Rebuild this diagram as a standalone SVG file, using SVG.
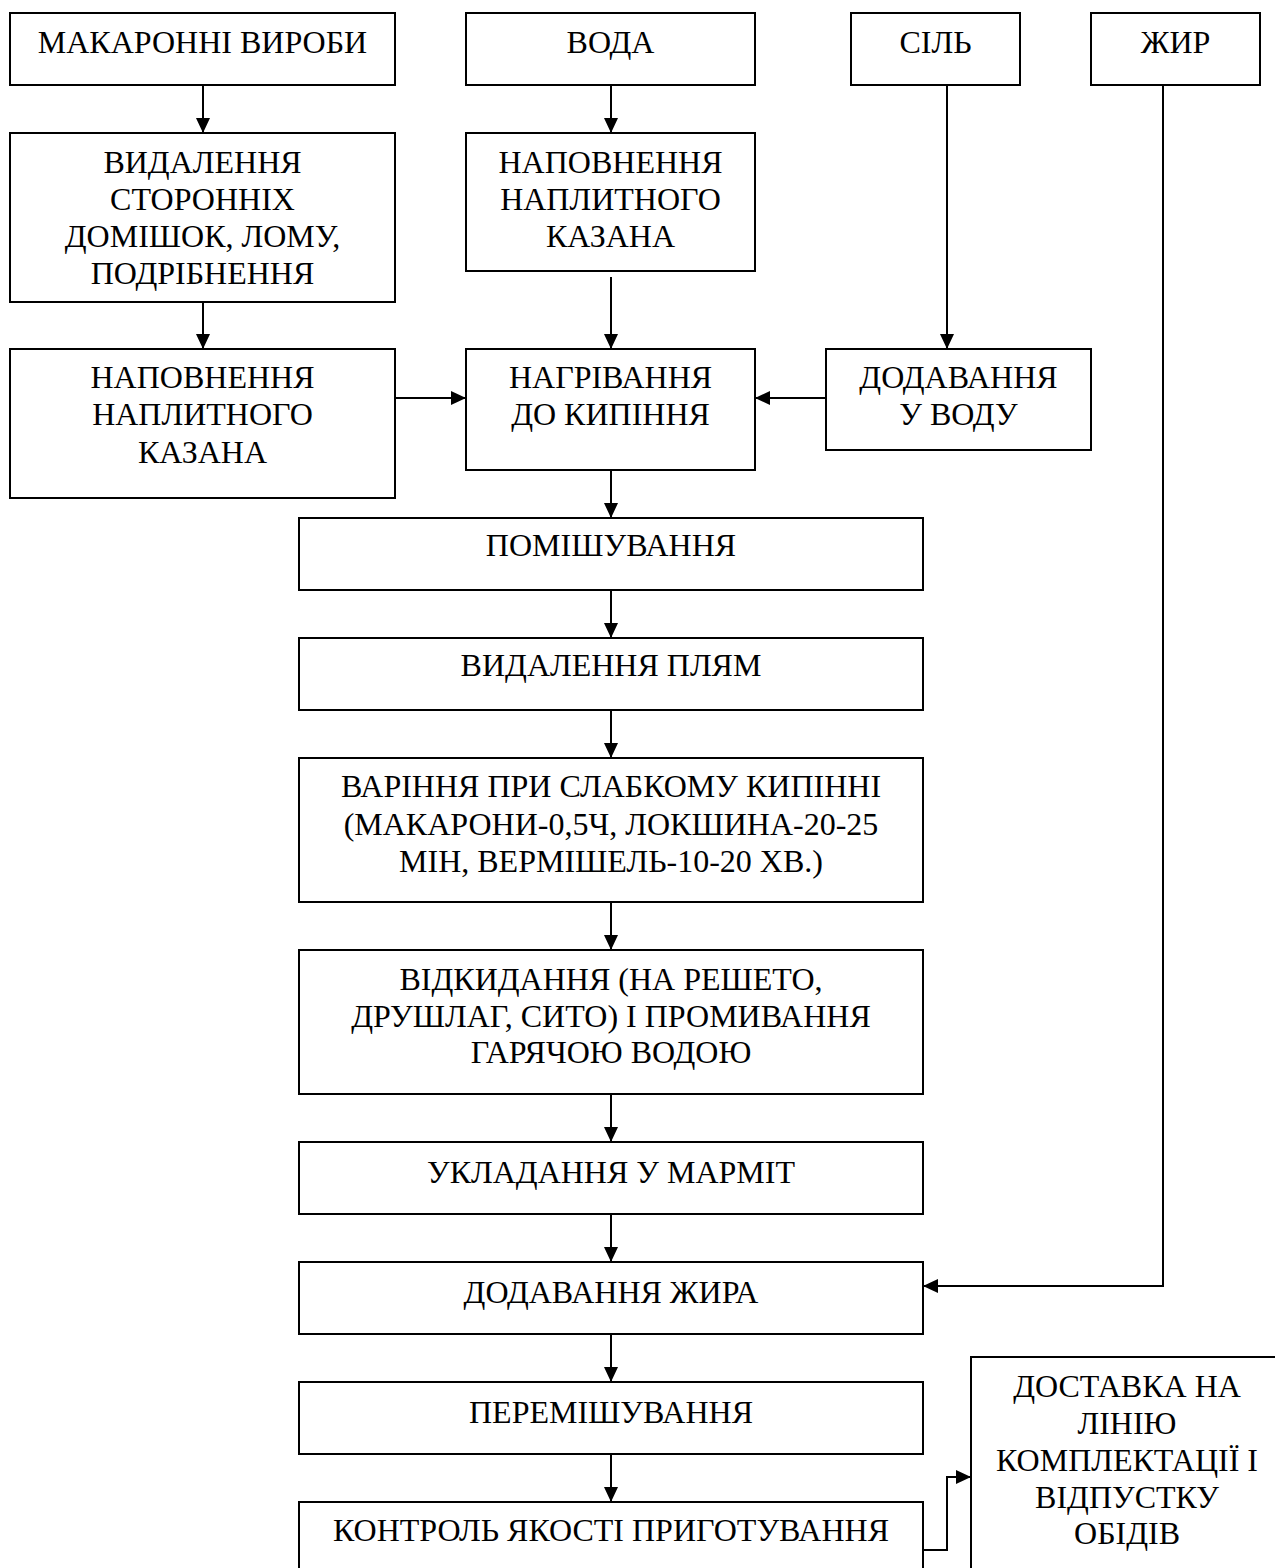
<svg xmlns="http://www.w3.org/2000/svg" width="1275" height="1568" viewBox="0 0 1275 1568">
<style>
.box{fill:#fff;stroke:#000;stroke-width:2}
.t{font-family:"Liberation Serif","Times New Roman",serif;font-size:32px;fill:#000;text-anchor:middle}
.c{fill:none;stroke:#000;stroke-width:2}
</style>
<defs>
<marker id="ah" markerUnits="userSpaceOnUse" markerWidth="15" markerHeight="14" refX="15" refY="7" orient="auto">
<path d="M0,0 L15,7 L0,14 z" fill="#000"/>
</marker>
</defs>
<rect width="1275" height="1568" fill="#fff"/>
<g id="connectors">
<line class="c" x1="203" y1="85" x2="203" y2="133" marker-end="url(#ah)"/>
<line class="c" x1="203" y1="302" x2="203" y2="349" marker-end="url(#ah)"/>
<line class="c" x1="611" y1="85" x2="611" y2="133" marker-end="url(#ah)"/>
<line class="c" x1="611" y1="277" x2="611" y2="349" marker-end="url(#ah)"/>
<line class="c" x1="947" y1="85" x2="947" y2="349" marker-end="url(#ah)"/>
<line class="c" x1="395" y1="398" x2="466" y2="398" marker-end="url(#ah)"/>
<line class="c" x1="826" y1="398" x2="755" y2="398" marker-end="url(#ah)"/>
<line class="c" x1="611" y1="470" x2="611" y2="518" marker-end="url(#ah)"/>
<line class="c" x1="611" y1="590" x2="611" y2="638" marker-end="url(#ah)"/>
<line class="c" x1="611" y1="710" x2="611" y2="758" marker-end="url(#ah)"/>
<line class="c" x1="611" y1="902" x2="611" y2="950" marker-end="url(#ah)"/>
<line class="c" x1="611" y1="1094" x2="611" y2="1142" marker-end="url(#ah)"/>
<line class="c" x1="611" y1="1214" x2="611" y2="1262" marker-end="url(#ah)"/>
<line class="c" x1="611" y1="1334" x2="611" y2="1382" marker-end="url(#ah)"/>
<line class="c" x1="611" y1="1454" x2="611" y2="1502" marker-end="url(#ah)"/>
<polyline class="c" points="1163,85 1163,1286 923,1286" marker-end="url(#ah)"/>
<polyline class="c" points="923,1550 947,1550 947,1477 971,1477" marker-end="url(#ah)"/>
</g>
<g id="n-makaron"><rect class="box" x="10" y="13" width="385" height="72"/><text class="t" x="202.5" y="53">МАКАРОННІ ВИРОБИ</text></g>
<g id="n-voda"><rect class="box" x="466" y="13" width="289" height="72"/><text class="t" x="610.5" y="53">ВОДА</text></g>
<g id="n-sil"><rect class="box" x="851" y="13" width="169" height="72"/><text class="t" x="935.5" y="53">СІЛЬ</text></g>
<g id="n-zhyr"><rect class="box" x="1091" y="13" width="169" height="72"/><text class="t" x="1175.5" y="53">ЖИР</text></g>
<g id="n-vydalennia"><rect class="box" x="10" y="133" width="385" height="169"/>
<text class="t" x="202.5" y="173">ВИДАЛЕННЯ</text><text class="t" x="202.5" y="210">СТОРОННІХ</text><text class="t" x="202.5" y="247">ДОМІШОК, ЛОМУ,</text><text class="t" x="202.5" y="284">ПОДРІБНЕННЯ</text></g>
<g id="n-napovn-voda"><rect class="box" x="466" y="133" width="289" height="138"/>
<text class="t" x="610.5" y="173">НАПОВНЕННЯ</text><text class="t" x="610.5" y="210">НАПЛИТНОГО</text><text class="t" x="610.5" y="247">КАЗАНА</text></g>
<g id="n-napovn-mak"><rect class="box" x="10" y="349" width="385" height="149"/>
<text class="t" x="202.5" y="388">НАПОВНЕННЯ</text><text class="t" x="202.5" y="425">НАПЛИТНОГО</text><text class="t" x="202.5" y="463">КАЗАНА</text></g>
<g id="n-nagrivannia"><rect class="box" x="466" y="349" width="289" height="121"/>
<text class="t" x="610.5" y="388">НАГРІВАННЯ</text><text class="t" x="610.5" y="425">ДО КИПІННЯ</text></g>
<g id="n-dodavannia-sil"><rect class="box" x="826" y="349" width="265" height="101"/>
<text class="t" x="958.5" y="388">ДОДАВАННЯ</text><text class="t" x="958.5" y="425">У ВОДУ</text></g>
<g id="n-pomishuvannia"><rect class="box" x="299" y="518" width="624" height="72"/><text class="t" x="611" y="556">ПОМІШУВАННЯ</text></g>
<g id="n-pliam"><rect class="box" x="299" y="638" width="624" height="72"/><text class="t" x="611" y="676">ВИДАЛЕННЯ ПЛЯМ</text></g>
<g id="n-varinnia"><rect class="box" x="299" y="758" width="624" height="144"/>
<text class="t" x="611" y="797">ВАРІННЯ ПРИ СЛАБКОМУ КИПІННІ</text><text class="t" x="611" y="835">(МАКАРОНИ-0,5Ч, ЛОКШИНА-20-25</text><text class="t" x="611" y="872">МІН, ВЕРМІШЕЛЬ-10-20 ХВ.)</text></g>
<g id="n-vidkydannia"><rect class="box" x="299" y="950" width="624" height="144"/>
<text class="t" x="611" y="990">ВІДКИДАННЯ (НА РЕШЕТО,</text><text class="t" x="611" y="1027">ДРУШЛАГ, СИТО) І ПРОМИВАННЯ</text><text class="t" x="611" y="1063">ГАРЯЧОЮ ВОДОЮ</text></g>
<g id="n-ukladannia"><rect class="box" x="299" y="1142" width="624" height="72"/><text class="t" x="611" y="1183">УКЛАДАННЯ У МАРМІТ</text></g>
<g id="n-zhyra"><rect class="box" x="299" y="1262" width="624" height="72"/><text class="t" x="611" y="1303">ДОДАВАННЯ ЖИРА</text></g>
<g id="n-peremishuvannia"><rect class="box" x="299" y="1382" width="624" height="72"/><text class="t" x="611" y="1423">ПЕРЕМІШУВАННЯ</text></g>
<g id="n-kontrol"><rect class="box" x="299" y="1502" width="624" height="72"/><text class="t" x="611" y="1541">КОНТРОЛЬ ЯКОСТІ ПРИГОТУВАННЯ</text></g>
<g id="n-dostavka"><rect class="box" x="971" y="1357" width="313" height="230"/>
<text class="t" x="1127" y="1397">ДОСТАВКА НА</text><text class="t" x="1127" y="1434">ЛІНІЮ</text><text class="t" x="1127" y="1471">КОМПЛЕКТАЦІЇ І</text><text class="t" x="1127" y="1508">ВІДПУСТКУ</text><text class="t" x="1127" y="1544">ОБІДІВ</text></g>
</svg>
